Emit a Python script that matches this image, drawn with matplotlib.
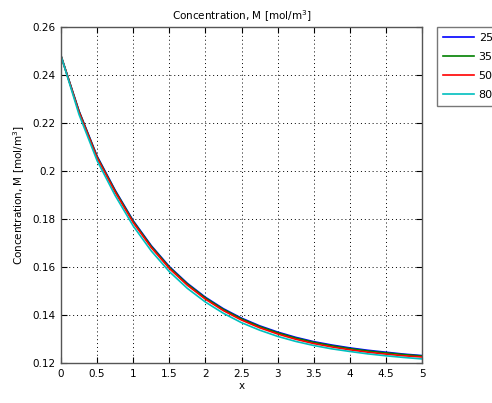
import matplotlib
matplotlib.use("Agg")
import matplotlib.pyplot as plt

x = [0.0, 0.25, 0.5, 0.75, 1.0, 1.25, 1.5, 1.75, 2.0, 2.25, 2.5,
     2.75, 3.0, 3.25, 3.5, 3.75, 4.0, 4.25, 4.5, 4.75, 5.0]
c25 = [0.248, 0.2250, 0.2062, 0.1920, 0.1793, 0.1689, 0.1602, 0.1532, 0.1474, 0.1426, 0.1387,
       0.1355, 0.1329, 0.1307, 0.1289, 0.1275, 0.1263, 0.1253, 0.1245, 0.1237, 0.1231]
c35 = [0.248, 0.2248, 0.2059, 0.1917, 0.1790, 0.1686, 0.1599, 0.1529, 0.1471, 0.1423, 0.1384,
       0.1352, 0.1326, 0.1304, 0.1286, 0.1272, 0.1260, 0.1250, 0.1242, 0.1235, 0.1229]
c50 = [0.248, 0.2245, 0.2055, 0.1912, 0.1785, 0.1681, 0.1594, 0.1524, 0.1466, 0.1418, 0.1379,
       0.1347, 0.1321, 0.1299, 0.1281, 0.1267, 0.1255, 0.1245, 0.1237, 0.1230, 0.1225]
c80 = [0.248, 0.2235, 0.2043, 0.1898, 0.1771, 0.1667, 0.1581, 0.1511, 0.1454, 0.1407, 0.1368,
       0.1337, 0.1311, 0.1290, 0.1273, 0.1259, 0.1248, 0.1238, 0.1230, 0.1223, 0.1217]
labels = ["25", "35", "50", "80"]
colors = ["#0000ff", "#008000", "#ff0000", "#00bfbf"]
xticks = [0, 0.5, 1, 1.5, 2, 2.5, 3, 3.5, 4, 4.5, 5]
xticklabels = ["0", "0.5", "1", "1.5", "2", "2.5", "3", "3.5", "4", "4.5", "5"]
yticks = [0.12, 0.14, 0.16, 0.18, 0.2, 0.22, 0.24, 0.26]
yticklabels = ["0.12", "0.14", "0.16", "0.18", "0.2", "0.22", "0.24", "0.26"]

plt.rcParams['font.family'] = ['DejaVu Sans']
fs = 7.5

fig = plt.figure(figsize=(4.92, 4.03), dpi=100)
ax = fig.add_axes([61/492, 1-363/403, (422-61)/492, (363-27)/403])

for ys, lab, col in zip([c25, c35, c50, c80], labels, colors):
    ax.plot(x, ys, color=col, lw=1.2, label=lab)

ax.set_xlim(0, 5)
ax.set_ylim(0.12, 0.26)
ax.set_xticks(xticks)
ax.set_xticklabels(xticklabels, fontsize=fs)
ax.set_yticks(yticks)
ax.set_yticklabels(yticklabels, fontsize=fs)
ax.tick_params(direction='in', length=4, width=0.8, top=True, right=True, color='black', pad=4)
ax.grid(True, color='black', linestyle=(0, (1, 3)), linewidth=0.7)
for s in ax.spines.values():
    s.set_color('#555555')
    s.set_linewidth(1.0)

ax.set_title("Concentration, M [mol/m$^3$]", fontsize=fs, pad=5)
ax.set_xlabel("x", fontsize=fs, labelpad=2)
ax.set_ylabel("Concentration, M [mol/m$^3$]", fontsize=fs, labelpad=4)

fig.legend(loc='upper left', bbox_to_anchor=(437/492, 1-27/403), fontsize=fs + 0.5,
           frameon=True, fancybox=False, edgecolor='#555555', handlelength=2.8,
           handletextpad=0.4, labelspacing=0.8, borderpad=0.55, borderaxespad=0)

fig.savefig("out.png", dpi=100)
